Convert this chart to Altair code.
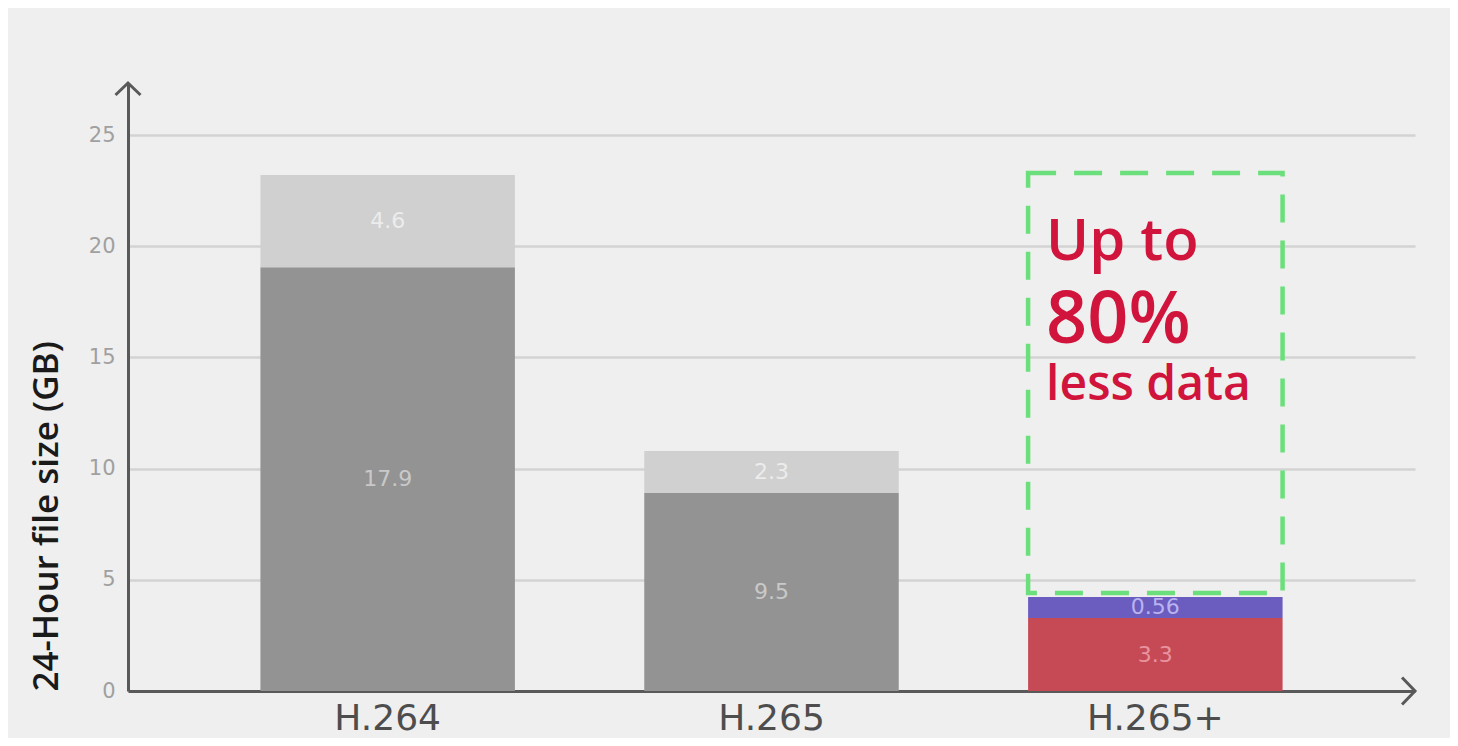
import altair as alt
import pandas as pd

# ---- data ----
codecs = ["H.264", "H.265", "H.265+"]
base_values = [19.06, 8.90, 3.28]      # lower segment heights (GB, as drawn)
top_values = [4.14, 1.89, 0.95]        # upper segment heights (GB, as drawn)
base_labels = ["17.9", "9.5", "3.3"]
top_labels = ["4.6", "2.3", "0.56"]
base_colors = ["#939393", "#939393", "#c64a56"]
top_colors = ["#d0d0d0", "#d0d0d0", "#6b5cc0"]
base_text_colors = ["#c9c9c9", "#c9c9c9", "#e8949e"]
top_text_colors = ["#ececec", "#ececec", "#b9b3ef"]

highlight_codec = "H.265+"
highlight_range = [4.41, 23.29]
callout_lines = ["Up to", "80%", "less data"]
callout_y = [19.38, 15.65, 13.08]
callout_sizes = [58, 72, 48]

y_ticks = [0, 5, 10, 15, 20, 25]
Y_MAX = 27.34
W, H = 1287, 608

rows = []
for i, c in enumerate(codecs):
    b, t = base_values[i], top_values[i]
    rows.append(dict(codec=c, y0=0.0, y1=b, mid=b / 2, label=base_labels[i],
                     fill=base_colors[i], tcol=base_text_colors[i]))
    rows.append(dict(codec=c, y0=b, y1=b + t, mid=b + t / 2, label=top_labels[i],
                     fill=top_colors[i], tcol=top_text_colors[i]))
df = pd.DataFrame(rows)

yscale = alt.Scale(domain=[0, Y_MAX], nice=False, zero=True)
xscale = alt.Scale(domain=codecs, paddingInner=0.337, paddingOuter=0.345)

x_axis = alt.Axis(title=None, ticks=False, grid=False, domainColor="#595959",
                  domainWidth=3, labelFont="DejaVu Sans", labelFontSize=36,
                  labelColor="#4d4d4d", labelPadding=38, labelAngle=0,
                  labelBaseline="alphabetic")
y_axis = alt.Axis(title="24-Hour file size (GB)", values=y_ticks, ticks=False,
                  grid=True, gridColor="#d3d3d3", gridWidth=2.5,
                  domainColor="#595959", domainWidth=3,
                  labelFont="DejaVu Sans", labelFontSize=21, labelColor="#a0a0a0",
                  labelPadding=13, titleFont="Open Sans", titleFontSize=35,
                  titleFontWeight=600, titleColor="#1a1a1a", titleAngle=-90,
                  titleX=-82, titleY=H, titleAlign="left", titleBaseline="middle")

bars = alt.Chart(df).mark_bar().encode(
    x=alt.X("codec:N", scale=xscale, axis=x_axis, sort=codecs),
    y=alt.Y("y0:Q", scale=yscale, axis=y_axis),
    y2="y1:Q",
    color=alt.Color("fill:N", scale=None),
)

labels = alt.Chart(df).mark_text(font="DejaVu Sans", fontSize=22,
                                 baseline="middle").encode(
    x=alt.X("codec:N", scale=xscale, sort=codecs),
    y=alt.Y("mid:Q", scale=yscale),
    text="label:N",
    color=alt.Color("tcol:N", scale=None),
)

hl_df = pd.DataFrame({"codec": [highlight_codec], "lo": [highlight_range[0]],
                      "hi": [highlight_range[1]]})
highlight = alt.Chart(hl_df).mark_bar(fillOpacity=0, stroke="#6bdf7b",
                                      strokeWidth=4.5, strokeDash=[28, 18]).encode(
    x=alt.X("codec:N", scale=xscale, sort=codecs),
    y=alt.Y("lo:Q", scale=yscale),
    y2="hi:Q",
)

call_layers = []
for txt, yy, fs in zip(callout_lines, callout_y, callout_sizes):
    cdf = pd.DataFrame({"codec": [highlight_codec], "y": [yy], "t": [txt]})
    call_layers.append(
        alt.Chart(cdf).mark_text(align="left", baseline="alphabetic", dx=18,
                                 font="Open Sans", fontWeight=600, fontSize=fs,
                                 color="#d0143c").encode(
            x=alt.X("codec:N", scale=xscale, sort=codecs, bandPosition=0),
            y=alt.Y("y:Q", scale=yscale),
            text="t:N",
        )
    )

one = pd.DataFrame({"a": [0]})
y_arrow = alt.Chart(one).mark_point(shape="M-1,0.96L0,0L1,0.96", filled=False,
                                    stroke="#595959", strokeWidth=3, size=625,
                                    opacity=1).encode(
    x=alt.value(0), y=alt.value(0))
x_arrow = alt.Chart(one).mark_point(shape="M-0.96,-1L0,0L-0.96,1", filled=False,
                                    stroke="#595959", strokeWidth=3, size=729,
                                    opacity=1).encode(
    x=alt.value(W), y=alt.value(H))

chart = alt.layer(bars, labels, highlight, *call_layers, y_arrow, x_arrow).properties(
    width=W, height=H,
    autosize=alt.AutoSizeParams(type="none"),
    padding={"left": 120, "top": 75, "right": 35, "bottom": 47},
    background="#efefef",
).configure_view(stroke=None)

chart.save("out.html", embed_options={"renderer": "svg", "actions": False})
